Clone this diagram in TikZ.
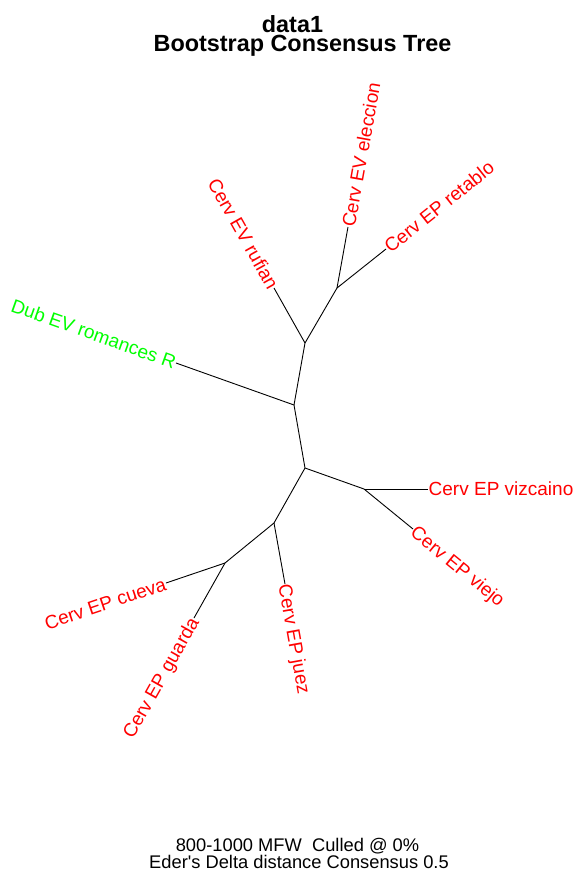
\documentclass[tikz,border=0pt]{standalone}
\usepackage{fontspec}
\setmainfont{Liberation Sans}[Ligatures=TeXOff]
\usetikzlibrary{calc}

\tikzset{
	branch/.style={black, line width=0.9pt},
	leaf/.style={red, font=\fontsize{19}{22}\selectfont, inner xsep=0.5pt, inner ysep=0pt, text height=13.6pt, text depth=0pt},
	caption/.style={anchor=base, font=\fontsize{18.3}{21}\selectfont},
}

\begin{document}
\begin{tikzpicture}[x=1pt, y=-1pt]
	\useasboundingbox (0,0) rectangle (575,875);
	
	% titles
	\node[anchor=base, font=\fontsize{23.4}{26}\selectfont\bfseries] (title1) at (292.5,33) {data1};
	\node[anchor=base, font=\fontsize{23.4}{26}\selectfont\bfseries] (title2) at (302.5,52) {Bootstrap Consensus Tree};
	
	% inner nodes of the tree
	\coordinate (A) at (294,405);
	\coordinate (B) at (305,343);
	\coordinate (C) at (337,288);
	\coordinate (D) at (305,468);
	\coordinate (E) at (364,489);
	\coordinate (F) at (274,523);
	\coordinate (G) at (225,563);
	
	% tips
	\coordinate (dub) at (176,363);
	\coordinate (rufian) at (274,288);
	\coordinate (eleccion) at (348,227);
	\coordinate (retablo) at (386,249);
	\coordinate (vizcaino) at (428,489);
	\coordinate (viejo) at (413,529);
	\coordinate (juez) at (285,584);
	\coordinate (guarda) at (194,618);
	\coordinate (cueva) at (166,583);
	
	\draw[branch] (A) -- (B);
	\draw[branch] (A) -- (D);
	\draw[branch] (A) -- (dub);
	\draw[branch] (B) -- (rufian);
	\draw[branch] (B) -- (C);
	\draw[branch] (C) -- (eleccion);
	\draw[branch] (C) -- (retablo);
	\draw[branch] (D) -- (E);
	\draw[branch] (D) -- (F);
	\draw[branch] (E) -- (vizcaino);
	\draw[branch] (E) -- (viejo);
	\draw[branch] (F) -- (juez);
	\draw[branch] (F) -- (G);
	\draw[branch] (G) -- (cueva);
	\draw[branch] (G) -- (guarda);
	
	% labels
	\node[leaf, green, anchor=east, rotate=-19.6] (ldub) at (dub) {Dub EV romances R};
	\node[leaf, anchor=east, rotate=-60.6] (lrufian) at (rufian) {Cerv EV rufian};
	\node[leaf, anchor=west, rotate=79.8] (leleccion) at (eleccion) {Cerv EV eleccion};
	\node[leaf, anchor=west, rotate=38.5] (lretablo) at (retablo) {Cerv EP retablo};
	\node[leaf, anchor=west] (lvizcaino) at (vizcaino) {Cerv EP vizcaino};
	\node[leaf, anchor=west, rotate=-39.2] (lviejo) at (viejo) {Cerv EP viejo};
	\node[leaf, anchor=west, rotate=-79.8] (ljuez) at (juez) {Cerv EP juez};
	\node[leaf, anchor=east, rotate=60.6] (lguarda) at (guarda) {Cerv EP guarda};
	\node[leaf, anchor=east, rotate=18.7] (lcueva) at (cueva) {Cerv EP cueva};
	
	% footer
	\node[caption] (foot1) at (297.5,851) {800-1000 MFW\ \ Culled @ 0\%};
	\node[caption] (foot2) at (299,868) {Eder's Delta distance Consensus 0.5};
\end{tikzpicture}
\end{document}
